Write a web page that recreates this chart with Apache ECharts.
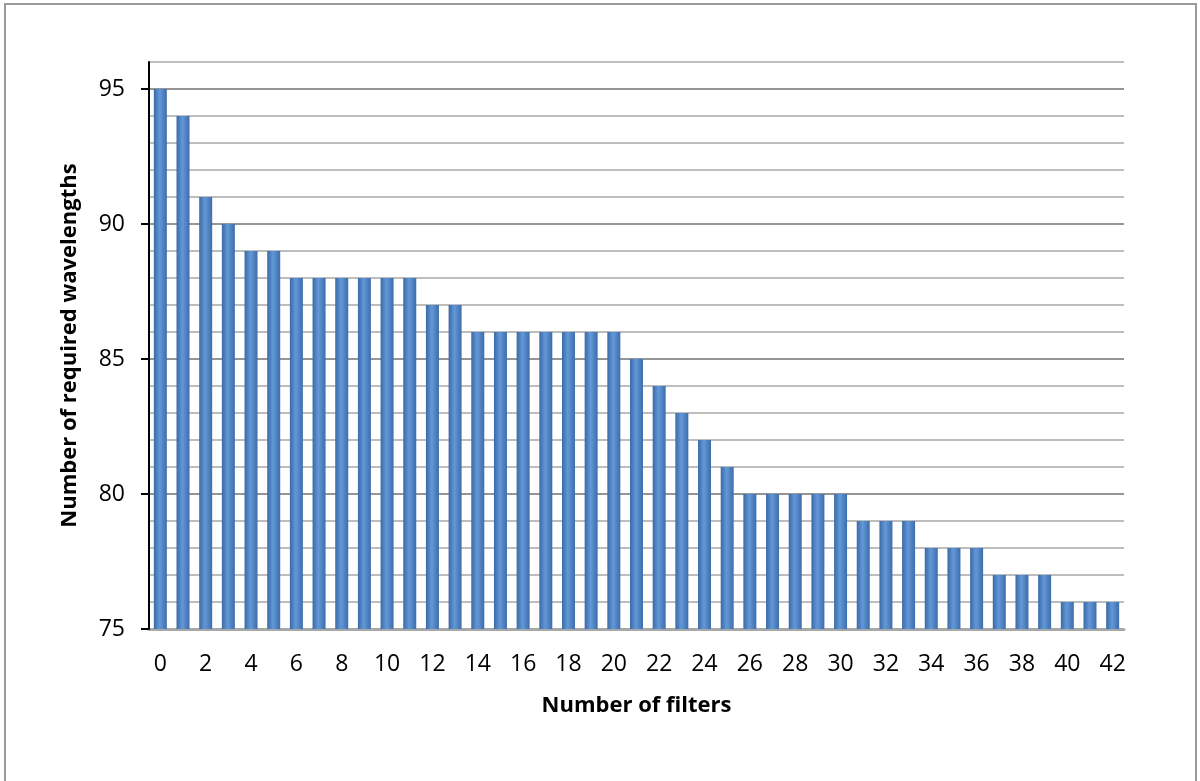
<!DOCTYPE html>
<html>
<head>
<meta charset="utf-8">
<script src="https://cdn.jsdelivr.net/npm/echarts@6/dist/echarts.min.js"></script>
<style>
html,body{margin:0;padding:0;background:#fff;}
#chart{width:1200px;height:781px;}
</style>
</head>
<body>
<div id="chart"></div>
<script>
const categories = ['0','1','2','3','4','5','6','7','8','9','10','11','12','13','14','15','16','17','18','19','20','21','22','23','24','25','26','27','28','29','30','31','32','33','34','35','36','37','38','39','40','41','42'];
const wavelengths = [95,94,91,90,89,89,88,88,88,88,88,88,87,87,86,86,86,86,86,86,86,85,84,83,82,81,80,80,80,80,80,79,79,79,78,78,78,77,77,77,76,76,76];
const yTickLabels = [75,80,85,90,95];
const xTitle = 'Number of filters';
const yTitle = 'Number of required wavelengths';

const chart = echarts.init(document.getElementById('chart'));
const font = '"Open Sans", "DejaVu Sans", sans-serif';
chart.setOption({
  animation: false,
  backgroundColor: '#ffffff',
  graphic: [{
    type: 'rect',
    shape: {x: 5, y: 4, width: 1191, height: 800},
    style: {fill: 'none', stroke: '#9a9a9a', lineWidth: 2},
    silent: true
  }],
  grid: {left: 149, right: 76, top: 62, bottom: 152},
  xAxis: {
    type: 'category',
    data: categories,
    name: xTitle,
    nameLocation: 'middle',
    nameGap: 66,
    nameTextStyle: {fontFamily: font, fontSize: 22, fontWeight: 'bold', color: '#000'},
    axisLine: {show: true, lineStyle: {color: '#a8a8a8', width: 3}},
    axisTick: {show: false},
    axisLabel: {interval: 1, margin: 24, fontFamily: font, fontSize: 23, color: '#000'},
    splitLine: {show: false}
  },
  yAxis: [{
    type: 'value',
    min: 75,
    max: 96,
    interval: 1,
    name: yTitle,
    nameLocation: 'middle',
    nameRotate: 90,
    nameGap: 68,
    nameTextStyle: {fontFamily: font, fontSize: 22, fontWeight: 'bold', color: '#000'},
    axisLine: {show: true, lineStyle: {color: '#000', width: 2}},
    axisTick: {show: true, length: 8, customValues: yTickLabels, lineStyle: {color: '#000', width: 2}},
    axisLabel: {customValues: yTickLabels, margin: 24, fontFamily: font, fontSize: 23, color: '#000'},
    splitLine: {show: false},
    z: 3
  }, {
    type: 'value',
    min: 75,
    max: 96,
    interval: 1,
    position: 'left',
    axisLine: {show: false},
    axisTick: {show: false},
    axisLabel: {show: false},
    splitLine: {show: true, lineStyle: {color: ['#959595','#bdbdbd','#bdbdbd','#bdbdbd','#bdbdbd'], width: 2}}
  }],
  series: [{
    type: 'bar',
    data: wavelengths,
    barWidth: 13,
    itemStyle: {
      color: new echarts.graphic.LinearGradient(0, 0, 1, 0, [
        {offset: 0, color: '#3a6aa6'},
        {offset: 0.45, color: '#6398d8'},
        {offset: 1, color: '#3d6dab'}
      ])
    }
  }]
});
</script>
</body>
</html>
